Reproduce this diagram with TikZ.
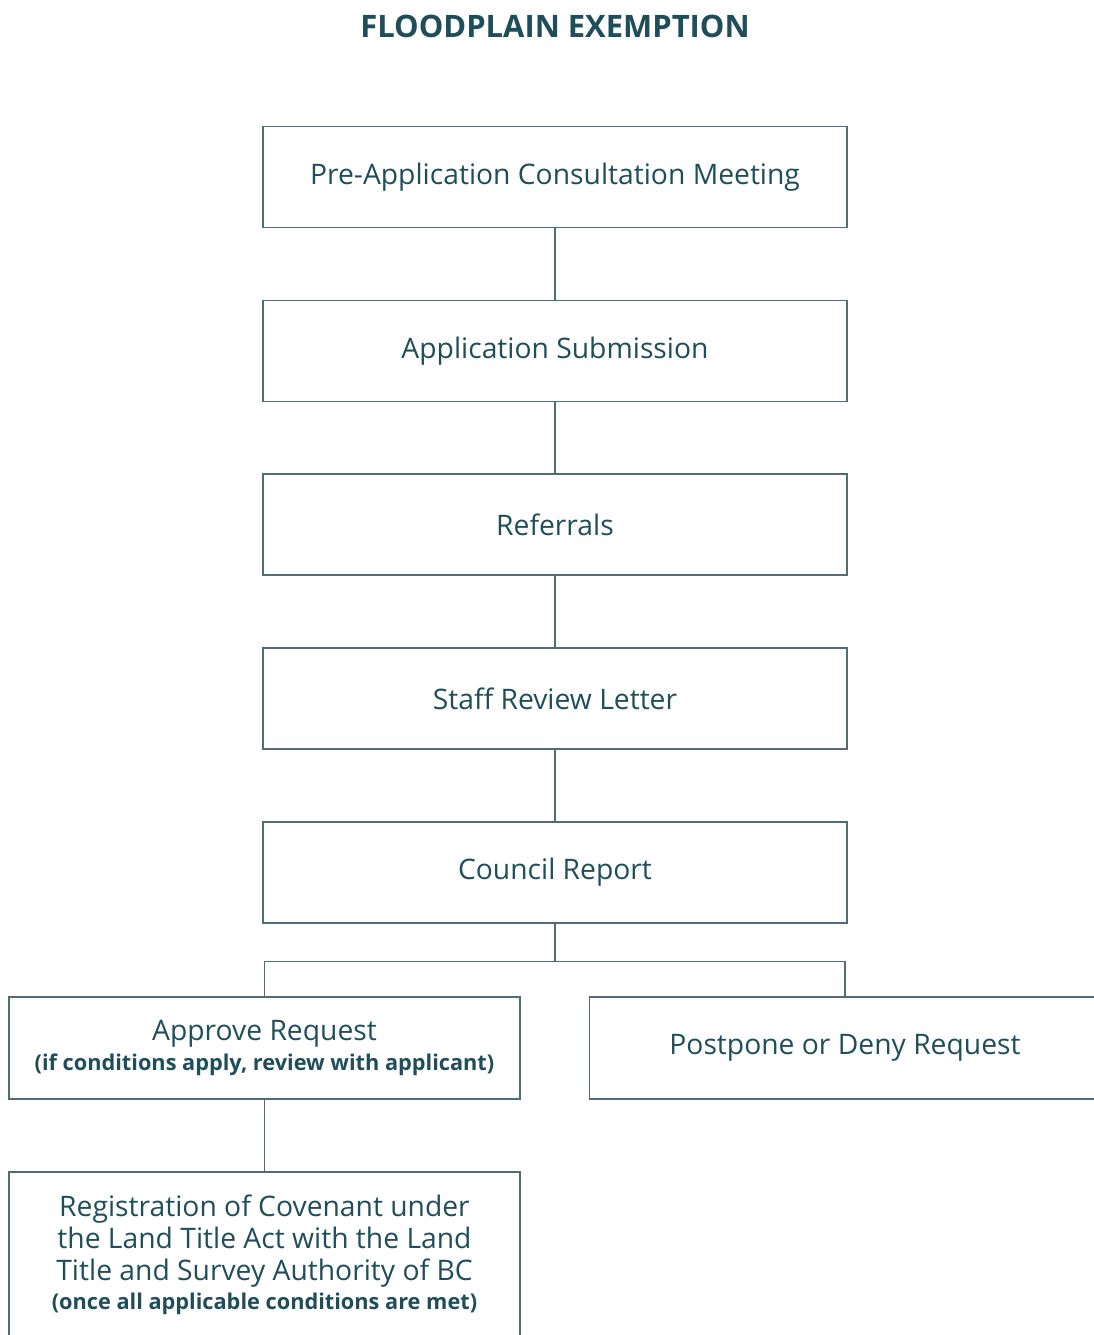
\documentclass[tikz,border=0pt]{standalone}
\usepackage{fontspec}
\setmainfont{Open Sans}
\usetikzlibrary{positioning, calc}
\definecolor{tealtext}{HTML}{1F4E5A}
\definecolor{tealline}{HTML}{4F6D73}
\newcommand{\notefont}{\fontsize{16.3pt}{18pt}\selectfont\bfseries}
\def \boxwidth {438pt}
\def \boxheight {75.75pt}
\def \gap {53.4pt}
\tikzset{
  stepbox/.style = {draw = tealline, line width = 1.2pt, text = tealtext, minimum width = \boxwidth, minimum height = \boxheight, align = center, inner sep = 0pt, font = \fontsize{21.2pt}{24pt}\selectfont},
  link/.style = {draw = tealline, line width = 1.2pt}
}

\begin{document}
\begin{tikzpicture}[x = 0.75pt, y = -0.75pt]
\useasboundingbox (0, 0) rectangle (1094, 1335);
\clip (0, 0) rectangle (1094, 1335);
\node (title) [text = tealtext, font = \fontsize{23.2pt}{26pt}\selectfont\bfseries] at (555, 26) {FLOODPLAIN EXEMPTION};

\node (preapp) [stepbox] at (555, 177) {Pre-Application Consultation Meeting};
\node (submit) [stepbox, below = \gap of preapp] {Application Submission};
\node (referrals) [stepbox, below = \gap of submit] {Referrals};
\node (review) [stepbox, below = \gap of referrals] {Staff Review Letter};
\node (council) [stepbox, below = \gap of review] {Council Report};

\draw[-, link] (preapp) to (submit);
\draw[-, link] (submit) to (referrals);
\draw[-, link] (referrals) to (review);
\draw[-, link] (review) to (council);

\node (approve) [stepbox, minimum width = 383.25pt, minimum height = 76.5pt] at (264.5, 1048) {Approve Request\\[-2pt]{\notefont (if conditions apply, review with applicant)}};
\node (postpone) [stepbox, minimum width = 383.25pt, minimum height = 76.5pt] at (845, 1048) {Postpone or Deny Request};
\node (covenant) [stepbox, minimum width = 383.25pt, minimum height = 124.5pt] at (264.5, 1255) {Registration of Covenant under\\the Land Title Act with the Land\\Title and Survey Authority of BC\\[-2pt]{\notefont (once all applicable conditions are met)}};

\coordinate (split) at ($(council.south) + (0, 38)$);
\draw[-, link] (council) to (split);
\draw[-, link] (approve) |- (split) -| (postpone);
\draw[-, link] (approve) to (covenant);

\end{tikzpicture}
\end{document}
